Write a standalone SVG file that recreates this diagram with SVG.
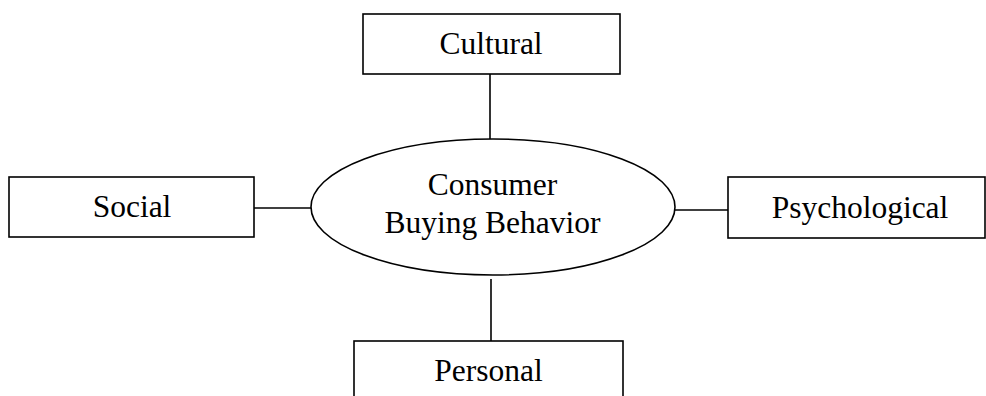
<svg xmlns="http://www.w3.org/2000/svg" width="986" height="396" viewBox="0 0 986 396">
  <style>
    .box { fill: #ffffff; stroke: #000000; stroke-width: 1.6; }
    .link { stroke: #000000; stroke-width: 1.6; fill: none; }
    .label { font-family: "Liberation Serif", "Times New Roman", serif; font-size: 31.5px; fill: #000000; text-anchor: middle; }
  </style>
  <rect width="986" height="396" fill="#ffffff"/>

  <!-- connectors between the centre and the four factors -->
  <g id="connectors">
    <line class="link" x1="490" y1="74" x2="490" y2="139"/>
    <line class="link" x1="254" y1="208" x2="311" y2="208"/>
    <line class="link" x1="675" y1="210" x2="728" y2="210"/>
    <line class="link" x1="491" y1="279" x2="491" y2="341"/>
  </g>

  <g id="center">
    <ellipse class="box" cx="493" cy="207" rx="182" ry="68"/>
    <text class="label" x="492.5" y="195">Consumer</text>
    <text class="label" x="492.5" y="233">Buying Behavior</text>
  </g>

  <g id="cultural">
    <rect class="box" x="363" y="14" width="257" height="60"/>
    <text class="label" x="491" y="54">Cultural</text>
  </g>

  <g id="social">
    <rect class="box" x="9" y="177" width="245" height="60"/>
    <text class="label" x="132" y="217">Social</text>
  </g>

  <g id="psychological">
    <rect class="box" x="728" y="177" width="257" height="61"/>
    <text class="label" x="860" y="218">Psychological</text>
  </g>

  <g id="personal">
    <rect class="box" x="354" y="341" width="269" height="70"/>
    <text class="label" x="488.5" y="381">Personal</text>
  </g>
</svg>
